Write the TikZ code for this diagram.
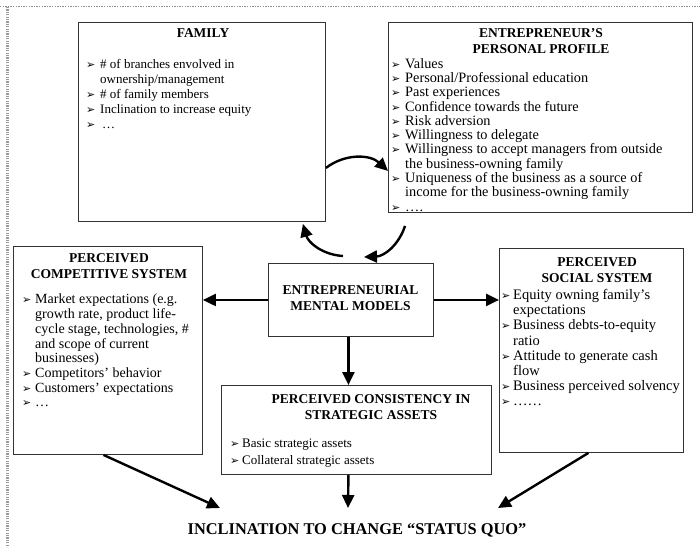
\documentclass[tikz,border=0pt]{standalone}
\usepackage{fontspec}
\setmainfont{Liberation Serif}
\newfontfamily\bulfont{DejaVu Sans}
\usepackage{tikz}
\usetikzlibrary{arrows.meta, calc}

\newlength{\ind}
\newcommand{\bul}{{\bulfont\fontsize{11}{11}\selectfont ➢}}
\newcommand{\bl}{\makebox[\ind][l]{\bul}}
\newcommand{\hi}{\hspace*{\ind}}

\tikzset{
	box/.style={draw=black!80, line width=0.9pt, anchor=north west, inner sep=0pt},
	ttl/.style={font=\bfseries\fontsize{13.5}{16}\selectfont, align=center, inner sep=0pt},
	lst/.style={align=left, anchor=north west, inner sep=0pt},
}

\begin{document}
\begin{tikzpicture}[x=1pt, y=-1pt]
	\useasboundingbox (0,0) rectangle (700,547);

	\begin{scope}[black!40, line width=3pt, dash pattern=on 1.2pt off 1.2pt]
		\draw (7.5,7) -- (7.5,547);
	\end{scope}
	\draw[black!45, line width=1.3pt, dash pattern=on 1.3pt off 1.3pt] (0,6.5) -- (700,6.5);

	\node[box, minimum width=247pt, minimum height=199pt] (fam) at (78,22) {};
	\node[box, minimum width=304pt, minimum height=190pt] (prof) at (388,22) {};
	\node[box, minimum width=189pt, minimum height=208pt] (comp) at (13,246) {};
	\node[box, minimum width=165pt, minimum height=73pt] (emm) at (268,263) {};
	\node[box, minimum width=184pt, minimum height=204pt] (soc) at (499,248) {};
	\node[box, minimum width=270pt, minimum height=89pt] (cons) at (221,385) {};

	\node[ttl] (famT) at (203,33) {FAMILY};
	\node[ttl] (profT) at (541,41.5) {ENTREPRENEUR’S\\PERSONAL PROFILE};
	\node[ttl] (compT) at (109,266) {PERCEIVED\\COMPETITIVE SYSTEM};
	\node[ttl] (socT) at (597,270) {PERCEIVED\\SOCIAL SYSTEM};
	\node[ttl] (emmT) at (350.5,298.5) {ENTREPRENEURIAL\\MENTAL MODELS};
	\node[ttl] (consT) at (371,407) {PERCEIVED CONSISTENCY IN\\STRATEGIC ASSETS};
	\node[ttl, font=\bfseries\fontsize{16.4}{18}\selectfont] (inc) at (357,530) {INCLINATION TO CHANGE “STATUS QUO”};

	\global\ind=14pt
	\node[lst, font=\fontsize{13}{15}\selectfont] (famL) at (86,59) {%
		\bl\# of branches envolved in\\
		\hi ownership/management\\
		\bl\# of family members\\
		\bl Inclination to increase equity\\
		\bl\hspace{2pt}…};
	\node[lst, font=\fontsize{14.3}{14.3}\selectfont] (profL) at (391,58) {%
		\bl Values\\
		\bl Personal/Professional education\\
		\bl Past experiences\\
		\bl Confidence towards the future\\
		\bl Risk adversion\\
		\bl Willingness to delegate\\
		\bl Willingness to accept managers from outside\\
		\hi the business-owning family\\
		\bl Uniqueness of the business as a source of\\
		\hi income for the business-owning family\\
		\bl ….};
	\global\ind=13pt
	\node[lst, font=\fontsize{14}{14.7}\selectfont] (compL) at (22,294) {%
		\bl Market expectations (e.g.\\
		\hi growth rate, product life-\\
		\hi cycle stage, technologies, \#\\
		\hi and scope of current\\
		\hi businesses)\\
		\bl Competitors’ behavior\\
		\bl Customers’ expectations\\
		\bl …};
	\global\ind=12pt
	\node[lst, font=\fontsize{14.5}{15.2}\selectfont] (socL) at (501,289) {%
		\bl Equity owning family’s\\
		\hi expectations\\
		\bl Business debts-to-equity\\
		\hi ratio\\
		\bl Attitude to generate cash\\
		\hi flow\\
		\bl Business perceived solvency\\
		\bl ……};
	\global\ind=12pt
	\node[lst, font=\fontsize{13}{17}\selectfont] (consL) at (230,439) {%
		\bl Basic strategic assets\\
		\bl Collateral strategic assets};

	\coordinate (incL) at (220,508);
	\coordinate (incM) at (348,508);
	\coordinate (incR) at (498,508);

	\begin{scope}[line width=2.4pt, -{Triangle[length=13pt, width=12pt]}]
		\draw (emm.west) -- (emm.west -| comp.east);
		\draw (emm.east) -- (emm.east -| soc.west);
		\draw ($(emm.south)+(-2.5,0)$) -- ($(cons.north)+(-8,0)$);

		\draw ($(comp.south)+(-4.5,0)$) -- (incL);
		\draw ($(cons.south)+(-8,0)$) -- (incM);
		\draw ($(soc.south)+(-3,0)$) -- (incR);

		\draw ($(fam.north east)!0.73!(fam.south east)$) to[bend left=40] ($(prof.north west)!0.78!(prof.south west)$);
		\draw ($(prof.south west)+(17,13)$) to[bend left=35] ($(emm.north)+(13,-6)$);
		\draw ($(emm.north)+(-8,-7)$) to[bend left=35] ($(fam.south east)+(-23,2)$);
	\end{scope}
\end{tikzpicture}
\end{document}
